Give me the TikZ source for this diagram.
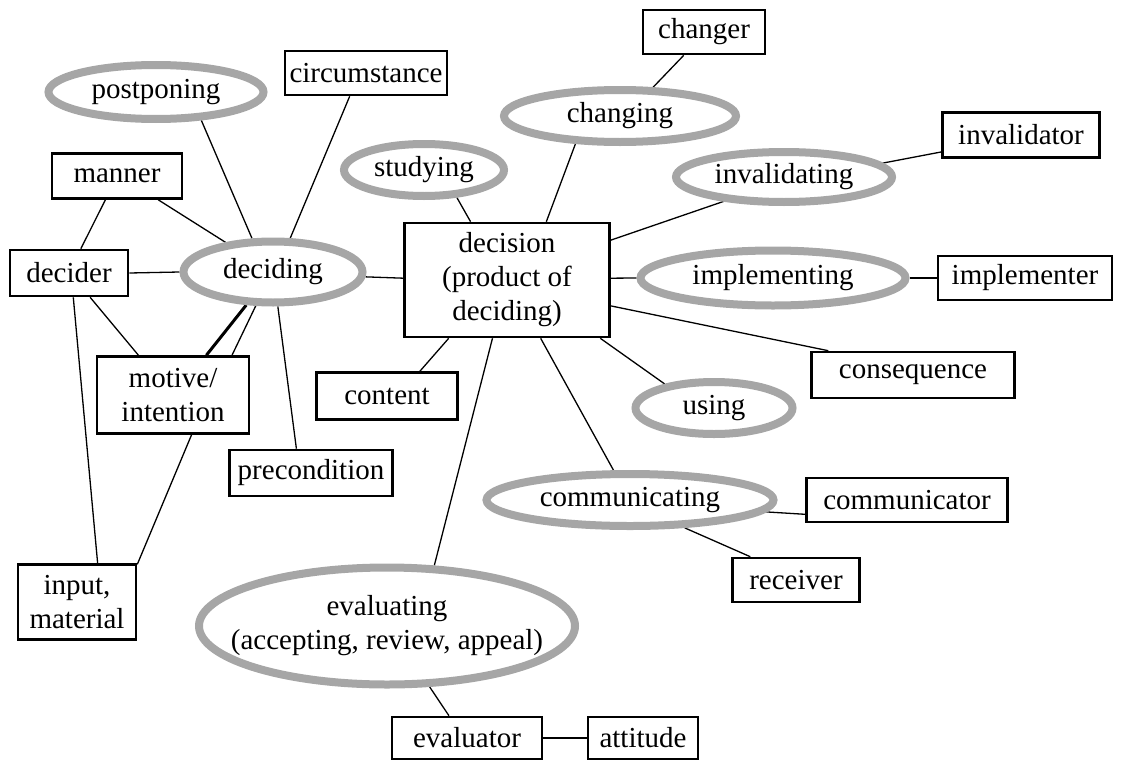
\documentclass[tikz,border=0pt]{standalone}
\usepackage{fontspec}
\setmainfont{Liberation Serif}
\usetikzlibrary{shapes.geometric}
\pgfdeclarelayer{bg}
\pgfsetlayers{bg,main}
\definecolor{ringgray}{HTML}{A6A6A6}
\tikzset{
  box/.style={draw=black, line width=2.6pt, fill=white, rectangle, inner sep=0pt,
    align=center, font=\fontsize{29}{34}\selectfont},
  act/.style={draw=ringgray, line width=8pt, fill=white, ellipse, inner sep=0pt,
    align=center, font=\fontsize{29}{34}\selectfont},
  link/.style={draw=black, line width=1.3pt},
  thicklink/.style={draw=black, line width=3pt}
}
\newcommand{\bx}[5]{\node[box, minimum width=#3pt, minimum height=#4pt] (#1) at (#2) {#5};}
\newcommand{\el}[6][]{\node[act, minimum width=#4pt, minimum height=#5pt, #1] (#2) at (#3) {#6};}
\begin{document}
\begin{tikzpicture}[x=1pt, y=-1pt]
\useasboundingbox (0,0) rectangle (1123,760);

% process ellipses
\el{postponing}{156,92}{215}{54}{postponing}
\el{changing}{620,116}{232}{52}{changing}
\el{studying}{424,170}{160}{52}{studying}
\el{invalidating}{784,177}{216}{50}{invalidating}
\el{deciding}{273,272}{179}{61}{deciding}
\el{implementing}{773,278}{265}{55}{implementing}
\el{using}{714,408}{157}{52}{using}
\el{communicating}{630,500}{287}{52}{communicating}
\el[inner xsep=-30pt]{evaluating}{387,626}{376}{117}{evaluating\\(accepting, review, appeal)}

% role boxes
\bx{changer}{704,32}{122}{44}{changer}
\bx{circumstance}{366,73}{162}{44}{circumstance}
\bx{invalidator}{1021,135}{157}{45}{invalidator}
\bx{manner}{117,176}{130}{45}{manner}
\bx{decider}{69,273}{118}{46}{decider}
\bx{decision}{507,280}{205}{114}{decision\\(product of\\deciding)}
\bx{implementer}{1025,278}{174}{44}{implementer}
\bx{motive}{173,395}{152}{77}{motive/\\intention}
\bx{content}{387,396}{141}{47}{content}
\bx{consequence}{913,375}{203}{46}{consequence}
\bx{precondition}{311,473}{163}{46}{precondition}
\bx{communicator}{907,500}{201}{44}{communicator}
\bx{input}{77,602}{118}{75}{input,\\material}
\bx{receiver}{796,580}{127}{44}{receiver}
\bx{evaluator}{467,738}{150}{42}{evaluator}
\bx{attitude}{643,738}{110}{42}{attitude}

% connectors
\begin{pgfonlayer}{bg}
\draw[link] (changer.229) -- (changing.41);
\draw[link] (postponing.328) -- (deciding.122);
\draw[link] (circumstance.235) -- (deciding.63);
\draw[link] (manner.330) -- (deciding.148);
\draw[link] (manner.244) -- (decider.64);
\draw[link] (decider.east) -- (deciding.180);
\draw[link] (decider.311) -- (motive.131);
\draw[link] (decider.280) -- (input.62);
\draw[thicklink] (deciding.231) -- (motive.50);
\draw[link] (deciding.243) -- (motive.34);
\draw[link] (deciding.278) -- (precondition.121);
\draw[link] (deciding.357) -- (decision.179);
\draw[link] (motive.295) -- (input.32);
\draw[link] (studying.320) -- (decision.122);
\draw[link] (changing.212) -- (decision.56);
\draw[link] (invalidating.202) -- (decision.21);
\draw[link] (decision.1) -- (implementing.180);
\draw[link] (decision.346) -- (consequence.164);
\draw[link] (decision.328) -- (using.154);
\draw[link] (decision.225) -- (content.37);
\draw[link] (decision.300) -- (communicating.119);
\draw[link] (decision.256) -- (evaluating.52);
\draw[link] (invalidating.8) -- (invalidator.192);
\draw[link] (implementing.east) -- (implementer.west);
\draw[link] (communicating.355) -- (communicator.188);
\draw[link] (communicating.333) -- (receiver.153);
\draw[link] (evaluating.305) -- (evaluator.129);
\draw[link] (evaluator.east) -- (attitude.west);
\end{pgfonlayer}
\end{tikzpicture}
\end{document}
